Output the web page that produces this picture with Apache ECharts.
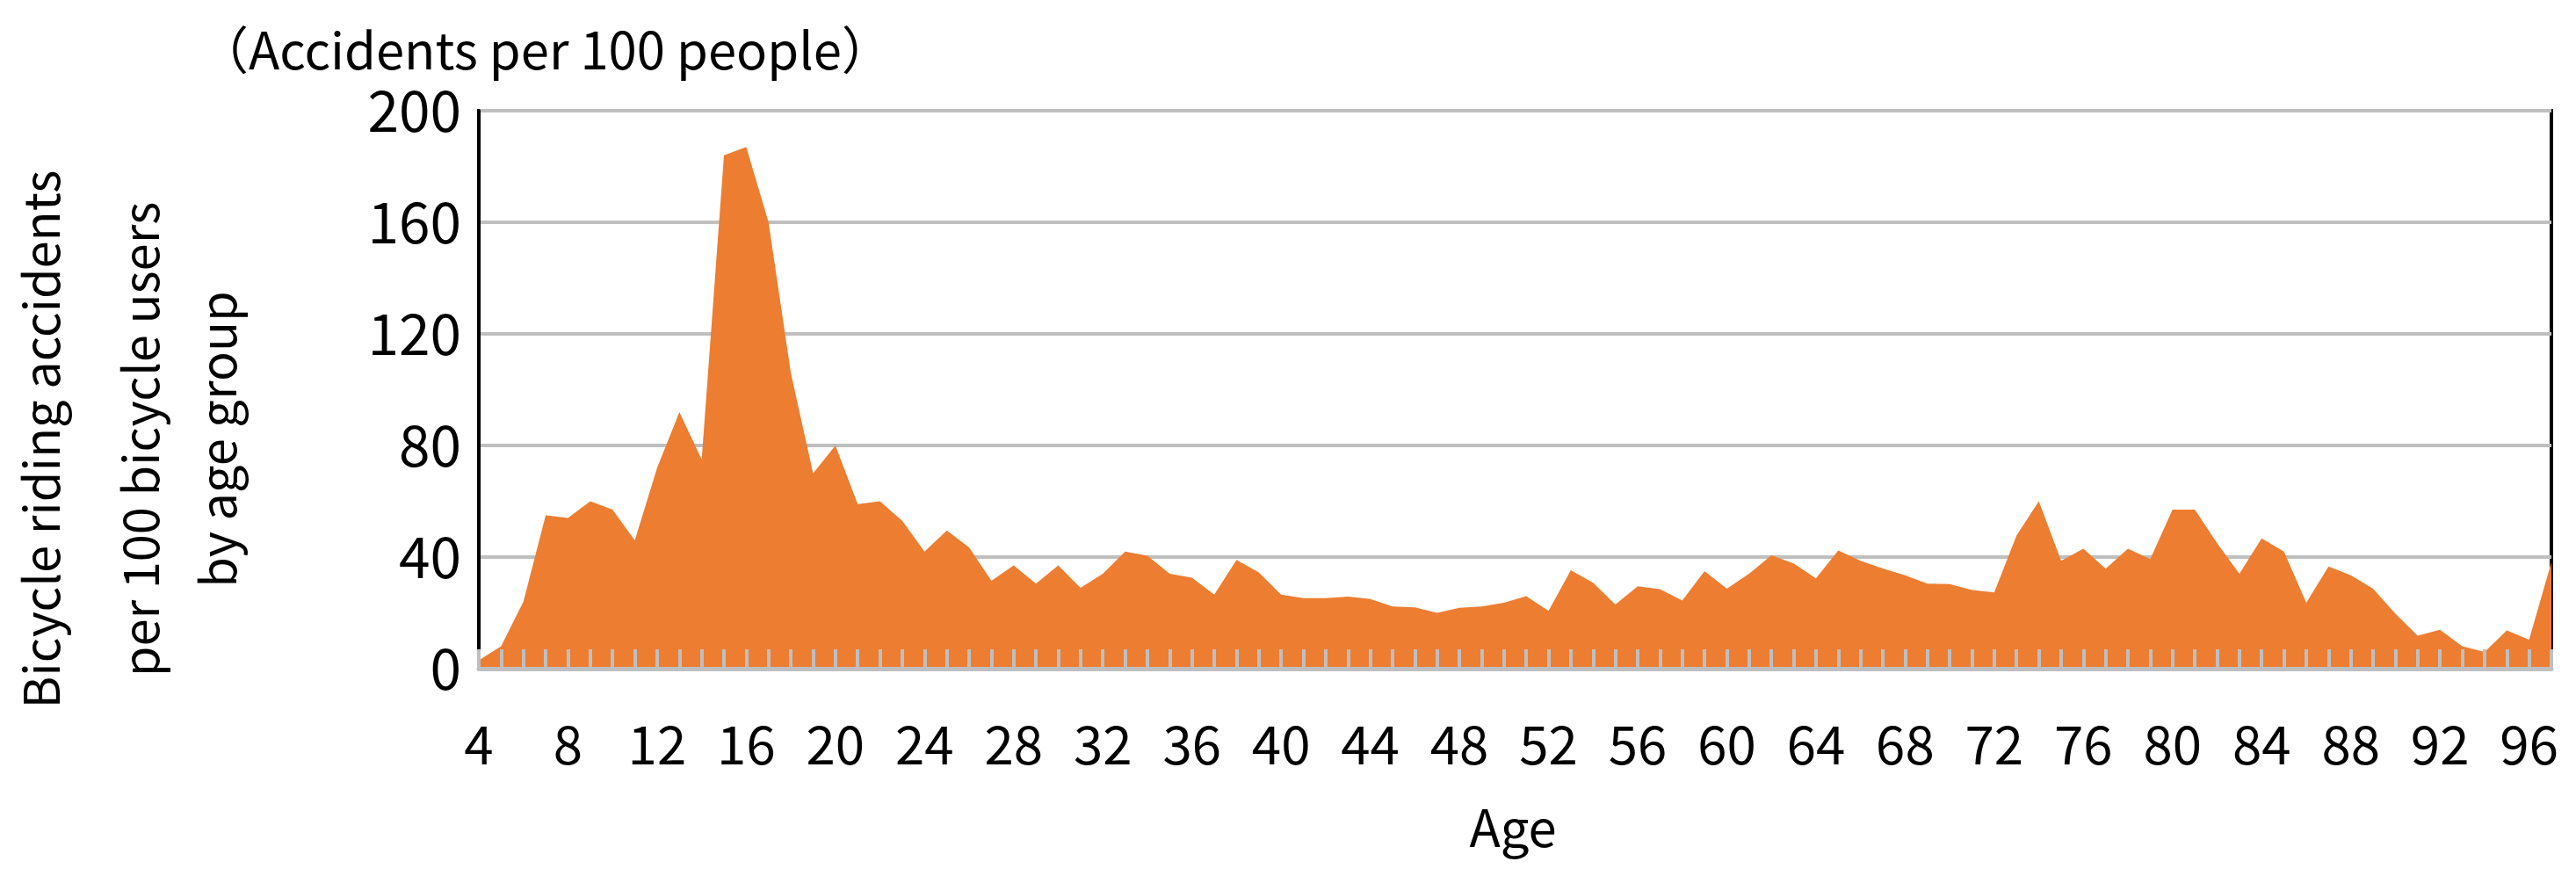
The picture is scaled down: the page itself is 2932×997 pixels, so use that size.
<!DOCTYPE html>
<html>
<head>
<meta charset="UTF-8">
<title>Bicycle accidents by age</title>
<script src="https://cdn.jsdelivr.net/npm/echarts@6/dist/echarts.min.js"></script>
<style>html,body{margin:0;padding:0;background:#fff;}</style>
</head>
<body>
	<div id="main" style="width: 2932px;height:997px;"></div>
	<script type="text/javascript">
	var ages = [];
	for (var a = 4; a <= 97; a++) ages.push(String(a));
	// accidents per 100 bicycle users, ages 4..97
	var rates = [3, 8, 24, 55, 54, 60, 57, 46, 72, 92, 75, 184, 187, 160, 106, 70, 80, 59, 60, 53,
		42, 49.5, 43.5, 31.5, 37, 30.5, 37, 29, 34, 42, 40.5, 34, 32.6, 26.5, 39, 34.5, 26.5, 25.3, 25.3, 25.8,
		25, 22.3, 22, 20, 21.8, 22.3, 23.6, 26, 20.7, 35.3, 30.8, 23, 29.5, 28.5, 24.4, 35, 28.7, 34, 40.6, 37.7,
		32.4, 42.4, 38.7, 35.9, 33.5, 30.5, 30.3, 28.2, 27.3, 47.7, 60, 38.7, 43, 35.8, 43, 39.3, 57, 57, 45, 34,
		46.7, 42, 23.6, 36.6, 33.5, 28.7, 19.7, 11.8, 13.9, 8, 6, 13.7, 10.4, 38.2];
	var yTicks = [0, 40, 80, 120, 160, 200];
	var unitLabel = '（Accidents per 100 people）';
	var yNameLines = ['Bicycle riding accidents', 'per 100 bicycle users', 'by age group'];

	var font = '"Noto Sans CJK JP", "Noto Sans", sans-serif';
	var chartDom = document.getElementById('main');
	var myChart = echarts.init(chartDom);

	var graphics = [{
		type: 'text', left: 225, top: 28,
		style: { text: unitLabel, font: '58px ' + font, fill: '#000' }
	}];
	var nameX = [47, 160, 248];
	yNameLines.forEach(function (t, i) {
		graphics.push({
			type: 'text', x: nameX[i], y: 500, rotation: Math.PI / 2,
			style: { text: t, font: '56px ' + font, fill: '#000', align: 'center', verticalAlign: 'middle' }
		});
	});
	graphics.push({
		type: 'text', x: 1722, y: 942,
		style: { text: 'Age', font: '58px ' + font, fill: '#000', align: 'center', verticalAlign: 'middle' }
	});

	myChart.setOption({
		animation: false,
		grid: { left: 545, right: 28, top: 126, bottom: 236, show: true, borderColor: '#000', borderWidth: 4 },
		graphic: graphics,
		xAxis: {
			type: 'category',
			data: ages,
			boundaryGap: false,
			z: 10,
			axisLine: { lineStyle: { color: '#bfbfbf', width: 5 } },
			axisTick: { inside: true, interval: 0, length: 22, lineStyle: { color: '#bfbfbf', width: 4 } },
			axisLabel: { interval: 3, margin: 56, fontSize: 60, color: '#000', fontFamily: font },
			splitLine: { show: false }
		},
		yAxis: {
			type: 'value',
			min: yTicks[0], max: yTicks[yTicks.length - 1], interval: 40,
			axisLine: { show: true, lineStyle: { color: '#000', width: 4 } },
			axisTick: { show: false },
			axisLabel: { margin: 20, fontSize: 64, color: '#000', fontFamily: font },
			splitLine: { lineStyle: { color: '#bfbfbf', width: 4 } }
		},
		series: [{
			type: 'line',
			data: rates,
			symbol: 'none',
			lineStyle: { width: 0 },
			areaStyle: { color: '#ED7D31', opacity: 1 },
			z: 2
		}]
	});
	</script>
</body>
</html>
